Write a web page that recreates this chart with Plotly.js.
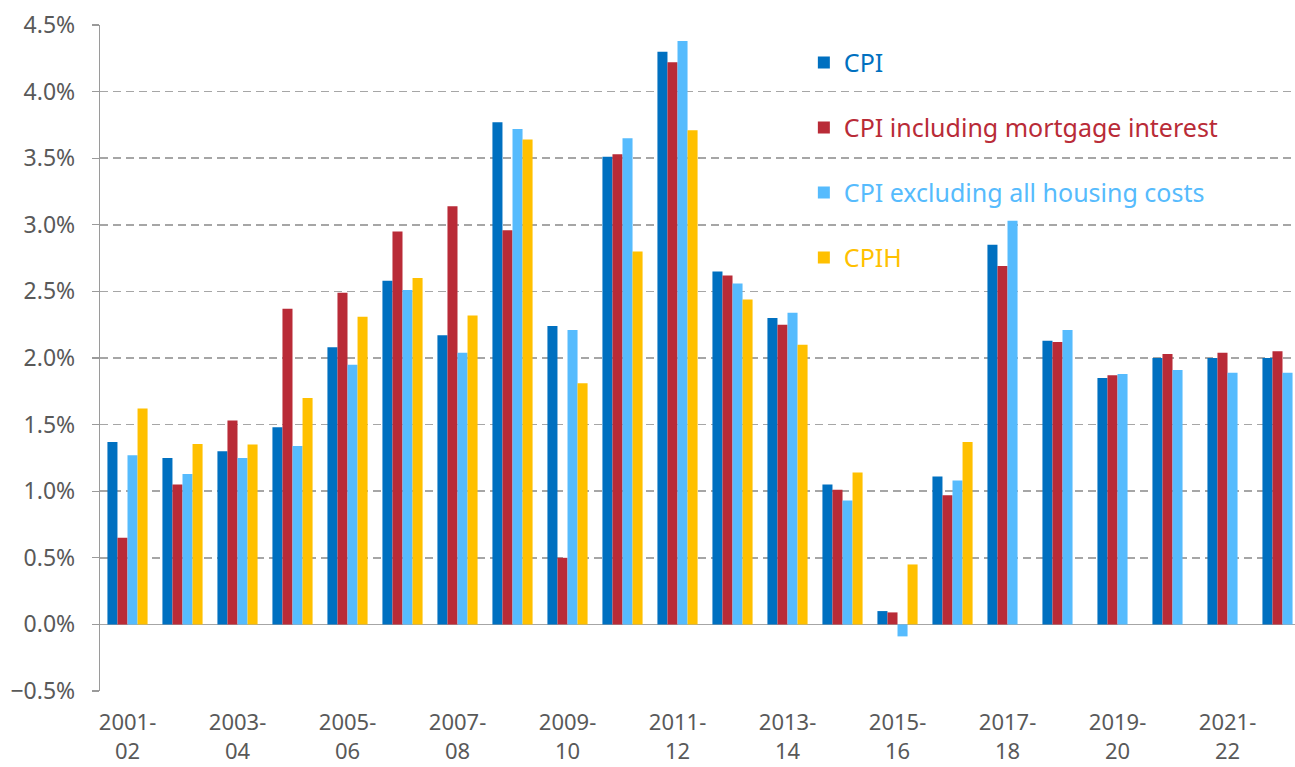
<!DOCTYPE html>
<html>
<head>
<meta charset="utf-8">
<script src="https://cdn.plot.ly/plotly-3.0.1.min.js"></script>
<style>html,body{margin:0;padding:0;background:#fff;}#chart{width:1295px;height:767px;}</style>
</head>
<body>
<div id="chart"></div>
<script>
const categories = ['2001-02','2002-03','2003-04','2004-05','2005-06','2006-07','2007-08','2008-09','2009-10','2010-11','2011-12','2012-13','2013-14','2014-15','2015-16','2016-17','2017-18','2018-19','2019-20','2020-21','2021-22','2022-23'];
const cpi      = [1.37,1.25,1.30,1.48,2.08,2.58,2.17,3.77,2.24,3.51,4.30,2.65,2.30,1.05,0.10,1.11,2.85,2.13,1.85,2.00,2.00,2.00];
const cpiMort  = [0.65,1.05,1.53,2.37,2.49,2.95,3.14,2.96,0.50,3.53,4.22,2.62,2.25,1.01,0.09,0.97,2.69,2.12,1.87,2.03,2.04,2.05];
const cpiExHousing = [1.27,1.13,1.25,1.34,1.95,2.51,2.04,3.72,2.21,3.65,4.38,2.56,2.34,0.93,-0.09,1.08,3.03,2.21,1.88,1.91,1.89,1.89];
const cpih     = [1.62,1.355,1.35,1.70,2.31,2.60,2.32,3.64,1.81,2.80,3.71,2.44,2.10,1.14,0.45,1.37,null,null,null,null,null,null];
const tickCats = ['2001-02','2003-04','2005-06','2007-08','2009-10','2011-12','2013-14','2015-16','2017-18','2019-20','2021-22'];
const tickLabels = ['2001-<br>02','2003-<br>04','2005-<br>06','2007-<br>08','2009-<br>10','2011-<br>12','2013-<br>14','2015-<br>16','2017-<br>18','2019-<br>20','2021-<br>22'];
const seriesNames = ['CPI','CPI including mortgage interest','CPI excluding all housing costs','CPIH'];
const seriesColors = ['#0070C0','#B92B37','#56BBFD','#FFC000'];
const seriesValues = [cpi, cpiMort, cpiExHousing, cpih];

const FONT = '"Noto Sans", "DejaVu Sans", sans-serif';
const traces = seriesValues.map((vals, i) => ({
  type: 'bar',
  x: categories,
  y: vals,
  name: '<span style="color:' + seriesColors[i] + '">' + seriesNames[i] + '</span>',
  legendgroup: 'g' + i,
  marker: {color: seriesColors[i], line: {width: 0}},
  hoverinfo: 'x+y'
}));

const layout = {
  width: 1295, height: 767,
  margin: {l: 100, r: 0, t: 25, b: 76},
  paper_bgcolor: '#ffffff', plot_bgcolor: '#ffffff',
  barmode: 'group', bargap: 0.27, bargroupgap: 0,
  font: {family: FONT, size: 22, color: '#595959'},
  showlegend: true,
  legend: {
    x: 0.589, y: 0.978, xanchor: 'left', yanchor: 'top',
    bgcolor: 'rgba(0,0,0,0)', borderwidth: 0,
    font: {family: FONT, size: 25},
    tracegroupgap: 29.5, traceorder: 'grouped'
  },
  xaxis: {
    type: 'category', categoryorder: 'array', categoryarray: categories,
    range: [-0.5, 21.227],
    tickmode: 'array', tickvals: tickCats, ticktext: tickLabels,
    showline: false, showgrid: false, zeroline: false, ticks: '',
    ticklabelstandoff: 16,
    tickfont: {family: FONT, size: 22, color: '#595959'}
  },
  yaxis: {
    range: [-0.5, 4.5], dtick: 0.5, tick0: 0,
    tickformat: '.1f', ticksuffix: '%',
    showgrid: true, gridcolor: '#a6a6a6', gridwidth: 1.5, griddash: '8px,5px',
    zeroline: true, zerolinecolor: '#a6a6a6', zerolinewidth: 1.5,
    showline: true, linecolor: '#9a9a9a', linewidth: 1.2,
    ticks: 'outside', ticklen: 7, tickcolor: '#9a9a9a', tickwidth: 1.2,
    ticklabelstandoff: 12,
    tickfont: {family: FONT, size: 23, color: '#595959'}
  }
};

Plotly.newPlot('chart', traces, layout, {displayModeBar: false, staticPlot: true});
</script>
</body>
</html>
